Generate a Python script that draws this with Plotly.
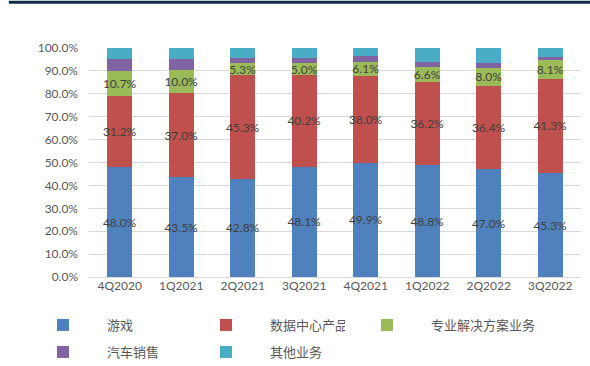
import plotly.graph_objects as go

quarters = ["4Q2020", "1Q2021", "2Q2021", "3Q2021", "4Q2021", "1Q2022", "2Q2022", "3Q2022"]
gaming = [48.0, 43.5, 42.8, 48.1, 49.9, 48.8, 47.0, 45.3]
datacenter = [31.2, 37.0, 45.3, 40.2, 38.0, 36.2, 36.4, 41.3]
proviz = [10.7, 10.0, 5.3, 5.0, 6.1, 6.6, 8.0, 8.1]
auto = [5.2, 4.6, 2.3, 2.2, 2.6, 2.2, 1.9, 1.5]
other = [4.9, 4.9, 4.3, 4.5, 3.4, 6.2, 6.7, 3.8]

names = ["游戏", "数据中心产品", "专业解决方案业务", "汽车销售", "其他业务"]
colors = ["#4F81BD", "#C0504D", "#9BBB59", "#8064A2", "#4BACC6"]
series = [gaming, datacenter, proviz, auto, other]
labeled = [True, True, True, False, False]
legends = ["legend", "legend", "legend3", "legend2", "legend2"]

fig = go.Figure()
for name, col, vals, lab, lg in zip(names, colors, series, labeled, legends):
    fig.add_trace(go.Bar(
        x=quarters, y=vals, name=name, marker=dict(color=col, line=dict(width=0)),
        text=[f"{v:.1f}%" for v in vals] if lab else None,
        textposition="inside" if lab else "none",
        insidetextanchor="middle", constraintext="none", textangle=0,
        textfont=dict(family="Lato, sans-serif", size=12, color="#404040"),
        hoverinfo="skip", legend=lg,
    ))

legend_common = dict(orientation="h", xref="container", yref="container",
                     xanchor="left", yanchor="middle", traceorder="normal",
                     entrywidth=70, entrywidthmode="pixels", itemwidth=78,
                     font=dict(family="Noto Sans CJK SC", size=13, color="#595959"),
                     bgcolor="rgba(0,0,0,0)")
legend3_common = dict(legend_common, entrywidth=130)

fig.update_layout(
    barmode="stack", bargap=0.6,
    width=590, height=366,
    margin=dict(l=89, r=9, t=48, b=89, autoexpand=False),
    plot_bgcolor="white", paper_bgcolor="white",
    font=dict(family="Lato, sans-serif", color="#595959", size=12),
    xaxis=dict(showgrid=False, showline=False, ticks="", tickfont=dict(size=12, color="#595959")),
    yaxis=dict(range=[0, 100], dtick=10, ticksuffix="%", tickformat=".1f",
               showgrid=True, gridcolor="#D9D9D9", gridwidth=1, zeroline=True,
               zerolinecolor="#D9D9D9", zerolinewidth=1, ticklabelstandoff=10,
               tickfont=dict(size=12, color="#595959")),
    legend=dict(x=19 / 590, y=1 - 325 / 366, **legend_common),
    legend2=dict(x=19 / 590, y=1 - 352 / 366, **legend_common),
    legend3=dict(x=(387 - 44) / 590, y=1 - 325 / 366, **legend3_common),
    shapes=[dict(type="line", xref="paper", yref="paper", x0=-0.163, x1=1.02, y0=1.2, y1=1.2,
                 line=dict(color="#0F2B46", width=3))],
)

fig.write_html("out.html", config={"displayModeBar": False},
               post_script="document.body.style.margin='0';")
